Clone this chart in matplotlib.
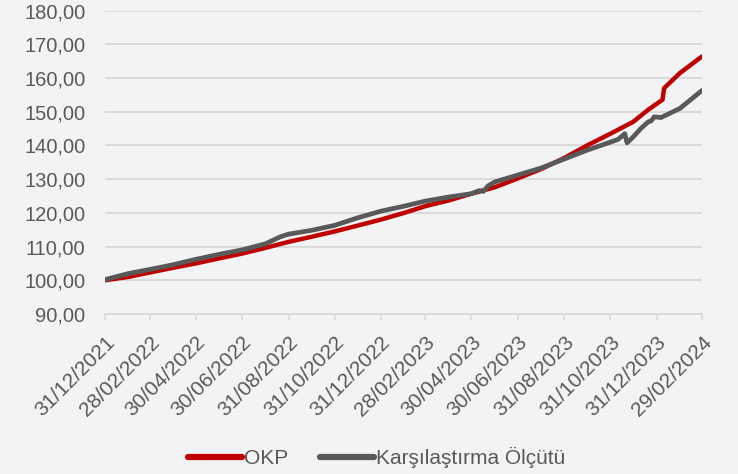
import matplotlib
matplotlib.use('Agg')
import matplotlib.pyplot as plt
import matplotlib.dates as mdates
import pandas as pd

plt.rcParams['font.family'] = ['Liberation Sans', 'DejaVu Sans']

# Veriler (grafikten okunan yaklaşık değerler)
okp_tarih = ['2021-12-31', '2022-01-31', '2022-02-28', '2022-03-31', '2022-04-30',
             '2022-05-31', '2022-06-30', '2022-07-31', '2022-08-31', '2022-09-30',
             '2022-10-31', '2022-11-30', '2022-12-31', '2023-01-31', '2023-02-28',
             '2023-03-31', '2023-04-30', '2023-05-31', '2023-06-30', '2023-07-31',
             '2023-08-31', '2023-09-30', '2023-10-31', '2023-11-30', '2023-12-20',
             '2024-01-08', '2024-01-10', '2024-01-31', '2024-02-29']
okp_deger = [100.0, 101.0, 102.3, 103.7, 105.0,
             106.5, 107.9, 109.6, 111.4, 112.9,
             114.5, 116.2, 118.0, 120.0, 122.0,
             123.7, 125.7, 127.6, 130.2, 133.0,
             136.3, 140.0, 143.5, 147.0, 150.6,
             153.6, 157.0, 161.5, 166.4]

kar_tarih = ['2021-12-31', '2022-01-31', '2022-02-28', '2022-03-31', '2022-04-30',
             '2022-05-31', '2022-06-30', '2022-07-31', '2022-08-20', '2022-08-31',
             '2022-09-30', '2022-10-31', '2022-11-30', '2022-12-31', '2023-01-31',
             '2023-02-28', '2023-03-31', '2023-04-30', '2023-05-10', '2023-05-16',
             '2023-05-22', '2023-05-31', '2023-06-30', '2023-07-31', '2023-08-31',
             '2023-09-30', '2023-10-31', '2023-11-10', '2023-11-19', '2023-11-22',
             '2023-11-30', '2023-12-10', '2023-12-20', '2023-12-24', '2023-12-28',
             '2024-01-06', '2024-01-31', '2024-02-29']
kar_deger = [100.2, 102.0, 103.2, 104.6, 106.2,
             107.7, 109.0, 110.8, 112.9, 113.7,
             114.8, 116.3, 118.5, 120.5, 122.0,
             123.5, 124.7, 125.7, 126.6, 126.4,
             128.0, 129.2, 131.2, 133.3, 136.0,
             138.6, 141.0, 141.8, 143.5, 140.8,
             142.5, 145.0, 147.0, 147.3, 148.5,
             148.3, 151.0, 156.3]

eksen_tarih = ['2021-12-31', '2022-02-28', '2022-04-30', '2022-06-30', '2022-08-31',
               '2022-10-31', '2022-12-31', '2023-02-28', '2023-04-30', '2023-06-30',
               '2023-08-31', '2023-10-31', '2023-12-31', '2024-02-29']
y_tikler = [90, 100, 110, 120, 130, 140, 150, 160, 170, 180]

okp_tarih = pd.to_datetime(okp_tarih)
kar_tarih = pd.to_datetime(kar_tarih)
eksen_tarih = pd.to_datetime(eksen_tarih)

fig = plt.figure(figsize=(7.38, 4.74), dpi=100, facecolor='#f2f3f4')
ax = fig.add_axes([0.1423, 0.3376, 0.8087, 0.6398])
ax.set_facecolor('none')

ax.plot(okp_tarih, okp_deger, color='#c00000', linewidth=3.2, label='OKP',
        solid_capstyle='round', zorder=3)
ax.plot(kar_tarih, kar_deger, color='#595959', linewidth=3.4, label='Karşılaştırma Ölçütü',
        solid_capstyle='round', zorder=4)

ax.set_xlim(eksen_tarih[0], eksen_tarih[-1])
ax.set_ylim(90, 180)
ax.set_yticks(y_tikler)
ax.set_yticklabels([f'{v:.2f}'.replace('.', ',') for v in y_tikler])
ax.set_xticks(eksen_tarih)
ax.xaxis.set_major_formatter(mdates.DateFormatter('%d/%m/%Y'))

ax.grid(axis='y', color='#d9d9d9', linewidth=1.3, zorder=0)
for s in ['top', 'right', 'left']:
    ax.spines[s].set_visible(False)
ax.spines['bottom'].set_color('#d9d9d9')
ax.spines['bottom'].set_linewidth(1.3)

ax.tick_params(axis='y', length=0, pad=14, labelsize=14.5, labelcolor='#595959')
ax.tick_params(axis='x', length=4.5, width=1.2, color='#d9d9d9', pad=9,
               labelsize=15, labelcolor='#595959')
for lab in ax.get_xticklabels():
    lab.set_rotation(45)
    lab.set_ha('right')
    lab.set_rotation_mode('anchor')

leg = fig.legend(loc='center', bbox_to_anchor=(0.51, 0.034), ncol=2, frameon=False,
                 fontsize=15, handlelength=2.6, handletextpad=0.1, columnspacing=1.5)
for t in leg.get_texts():
    t.set_color('#595959')
for l in leg.get_lines():
    l.set_linewidth(4.5)

fig.savefig('out.png', dpi=100, facecolor=fig.get_facecolor())
